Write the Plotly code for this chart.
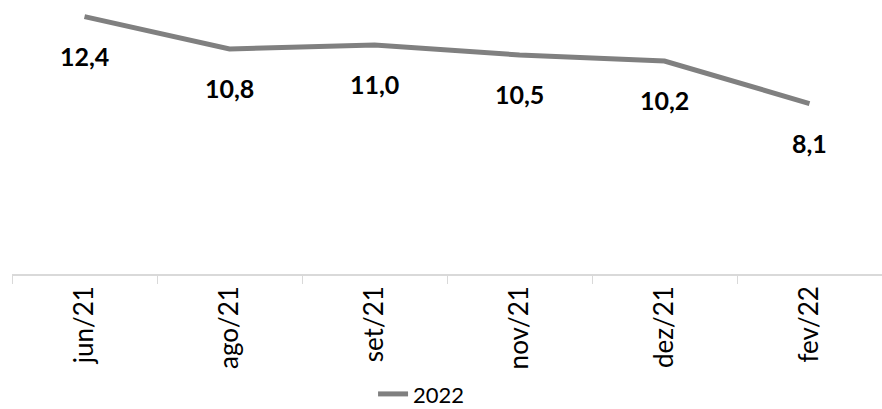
import plotly.graph_objects as go

# Monthly values for the 2022 series
months = ["jun/21", "ago/21", "set/21", "nov/21", "dez/21", "fev/22"]
values = [12.4, 10.8, 11.0, 10.5, 10.2, 8.1]
series_name = "2022"

fig = go.Figure()
fig.add_trace(go.Scatter(
    x=months, y=values, mode="lines", name=series_name,
    line=dict(color="#808080", width=5),
    showlegend=True,
))

# Value labels under each point, Portuguese decimal comma
for m, v in zip(months, values):
    fig.add_annotation(
        x=m, y=v, text=f"<b>{v:.1f}</b>".replace(".", ","),
        showarrow=False, yshift=-39,
        font=dict(family="Lato", size=25, color="#000000"),
    )

fig.update_layout(
    width=882, height=409,
    margin=dict(l=12, r=0, t=0, b=135, autoexpand=False),
    paper_bgcolor="white", plot_bgcolor="white",
    font=dict(family="Lato", color="#000000"),
    xaxis=dict(
        type="category", range=[-0.5, 5.5], automargin=False,
        showline=True, linecolor="#d9d9d9", linewidth=1.5,
        ticks="outside", tickson="boundaries", ticklen=8, tickcolor="#d9d9d9",
        tickangle=-90, tickfont=dict(family="Lato", size=26, color="#000000"),
        showgrid=False, zeroline=False,
    ),
    yaxis=dict(range=[-0.33, 13.22], visible=False, showgrid=False, zeroline=False),
    legend=dict(
        orientation="h", x=0.415, xanchor="left", y=-0.515, yanchor="bottom",
        font=dict(family="Lato", size=22, color="#000000"),
        bgcolor="rgba(0,0,0,0)", itemwidth=30,
    ),
)

fig.write_html("out.html")
